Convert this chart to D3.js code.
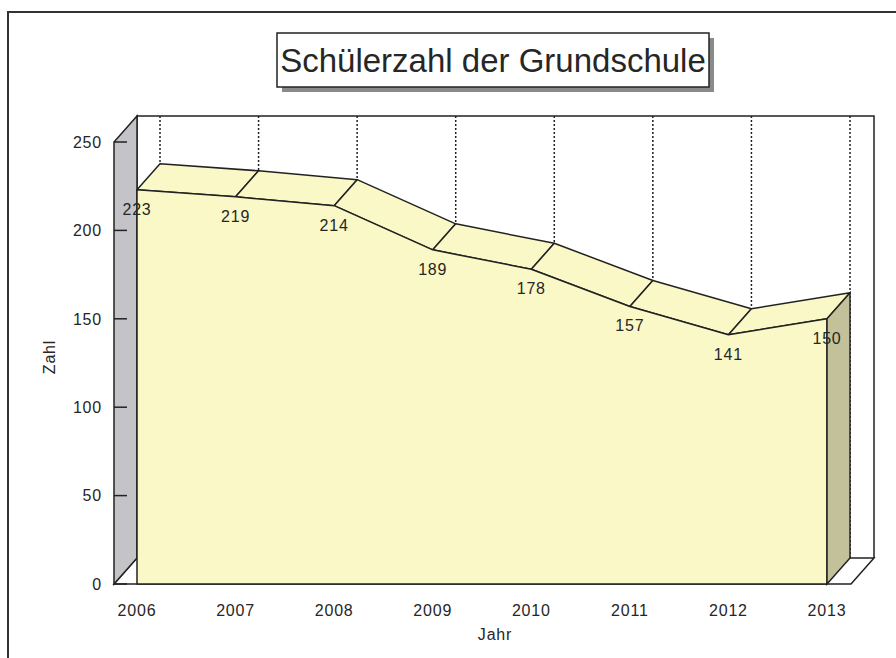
<!DOCTYPE html>
<html>
<head>
<meta charset="utf-8">
<script src="https://cdn.jsdelivr.net/npm/d3@7"></script>
<style>
  body { margin: 0; background: #fff; }
  svg text { font-family: "Liberation Sans", Arial, sans-serif; fill: #262626; }
  .lbl { font-size: 16px; letter-spacing: 0.8px; }
</style>
</head>
<body>
<svg id="chart" width="896" height="658"></svg>
<script>
// Schülerzahl der Grundschule, 3D area chart
var years = ["2006", "2007", "2008", "2009", "2010", "2011", "2012", "2013"];
var pupils = [223, 219, 214, 189, 178, 157, 141, 150];
var yTicks = [0, 50, 100, 150, 200, 250];

var svg = d3.select("#chart");
var W = 896, H = 658;

// depth offset of the 3D box
var dx = 23, dy = -26;

var x = d3.scalePoint().domain(years).range([137, 827]);
var y = d3.scaleLinear().domain([0, 250]).range([584, 142]);

var ink = "#222";
var lineGen = d3.line();

// outer frame (clipped by page)
svg.append("rect")
  .attr("x", 8).attr("y", 12).attr("width", W).attr("height", H)
  .attr("fill", "none").attr("stroke", "#333").attr("stroke-width", 2);

var x0 = 114, x1 = 851; // front plane left/right
var y0 = y(0), yTop = y(250);

// back wall outline
svg.append("path")
  .attr("d", lineGen([[x0 + dx, y0 + dy], [x0 + dx, yTop + dy], [x1 + dx, yTop + dy], [x1 + dx, y0 + dy]]))
  .attr("fill", "#fff").attr("stroke", ink).attr("stroke-width", 1.5);

// floor
svg.append("path")
  .attr("d", lineGen([[x0, y0], [x0 + dx, y0 + dy], [x1 + dx, y0 + dy], [x1, y0]]) + "Z")
  .attr("fill", "#fff").attr("stroke", ink).attr("stroke-width", 1.5);

// left wall
svg.append("path")
  .attr("d", lineGen([[x0, y0], [x0, yTop], [x0 + dx, yTop + dy], [x0 + dx, y0 + dy]]) + "Z")
  .attr("fill", "#c4c4c8").attr("stroke", ink).attr("stroke-width", 1.5);

// dotted grid lines on the back wall
svg.append("g").selectAll("line")
  .data(years)
  .enter().append("line")
  .attr("x1", function(d) { return x(d) + dx; })
  .attr("x2", function(d) { return x(d) + dx; })
  .attr("y1", yTop + dy)
  .attr("y2", y0 + dy)
  .attr("stroke", ink).attr("stroke-width", 1.5)
  .attr("stroke-dasharray", "2,2");

// y ticks on wall + labels
var ticks = svg.append("g");
ticks.selectAll("line")
  .data(yTicks)
  .enter().append("line")
  .attr("x1", x0).attr("x2", x0 + 13)
  .attr("y1", function(d) { return y(d); })
  .attr("y2", function(d) { return y(d); })
  .attr("stroke", ink).attr("stroke-width", 1.5);
ticks.selectAll("text")
  .data(yTicks)
  .enter().append("text")
  .attr("class", "lbl")
  .attr("x", 102)
  .attr("y", function(d) { return y(d); })
  .attr("dy", "0.36em")
  .attr("text-anchor", "end")
  .text(function(d) { return d; });

// area: top strips
var pts = years.map(function(d, i) { return [x(d), y(pupils[i])]; });
var topG = svg.append("g");
for (var i = 0; i < pts.length - 1; i++) {
  var a = pts[i], b = pts[i + 1];
  topG.append("path")
    .attr("d", lineGen([a, b, [b[0] + dx, b[1] + dy], [a[0] + dx, a[1] + dy]]) + "Z")
    .attr("fill", "#faf8c6").attr("stroke", ink).attr("stroke-width", 1.5)
    .attr("stroke-linejoin", "round");
}

// area: front face
var area = d3.area()
  .x(function(d) { return x(d.year); })
  .y0(y0)
  .y1(function(d) { return y(d.value); });
var series = years.map(function(d, i) { return { year: d, value: pupils[i] }; });
svg.append("path")
  .datum(series)
  .attr("d", area)
  .attr("fill", "#faf8c6").attr("stroke", ink).attr("stroke-width", 1.5)
  .attr("stroke-linejoin", "round");

// area: right side face
var last = pts[pts.length - 1];
svg.append("path")
  .attr("d", lineGen([[last[0], y0], last, [last[0] + dx, last[1] + dy], [last[0] + dx, y0 + dy]]) + "Z")
  .attr("fill", "#c3c199").attr("stroke", ink).attr("stroke-width", 1.5);

// value labels
svg.append("g").selectAll("text")
  .data(series)
  .enter().append("text")
  .attr("class", "lbl")
  .attr("x", function(d) { return x(d.year); })
  .attr("y", function(d) { return y(d.value) + 25; })
  .attr("text-anchor", "middle")
  .text(function(d) { return d.value; });

// x labels
svg.append("g").selectAll("text")
  .data(years)
  .enter().append("text")
  .attr("class", "lbl")
  .attr("x", function(d) { return x(d); })
  .attr("y", 616)
  .attr("text-anchor", "middle")
  .text(function(d) { return d; });

// axis titles
svg.append("text")
  .attr("class", "lbl")
  .attr("x", 495).attr("y", 640)
  .attr("text-anchor", "middle")
  .text("Jahr");
svg.append("text")
  .attr("class", "lbl")
  .attr("transform", "translate(55,357) rotate(-90)")
  .attr("text-anchor", "middle")
  .text("Zahl");

// title box with shadow
svg.append("rect")
  .attr("x", 282).attr("y", 38).attr("width", 432).attr("height", 54)
  .attr("fill", "#8a8a8a");
svg.append("rect")
  .attr("x", 277).attr("y", 33).attr("width", 432).attr("height", 54)
  .attr("fill", "#fff").attr("stroke", ink).attr("stroke-width", 1.5);
svg.append("text")
  .attr("x", 493).attr("y", 72)
  .attr("text-anchor", "middle")
  .style("font-size", "33px")
  .text("Schülerzahl der Grundschule");
</script>
</body>
</html>
